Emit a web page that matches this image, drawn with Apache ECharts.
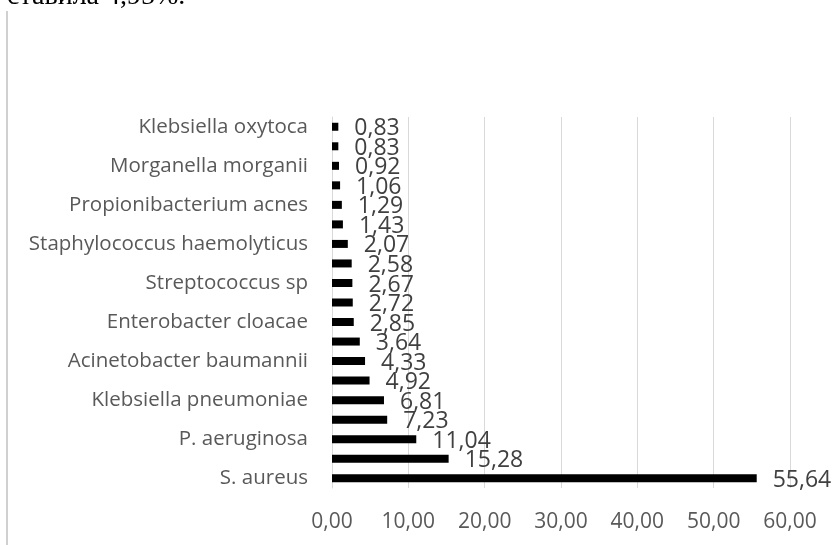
<!DOCTYPE html>
<html>
<head>
<meta charset="utf-8">
<script src="https://cdn.jsdelivr.net/npm/echarts@6/dist/echarts.min.js"></script>
<style>
html,body{margin:0;padding:0;background:#fff;}
#chart{width:839px;height:545px;}
</style>
</head>
<body>
<div id="chart"></div>
<script>
// Categories from bottom to top; names not shown in the picture are left blank
var categories = [
  "S. aureus", "", "P. aeruginosa", "", "Klebsiella pneumoniae", "",
  "Acinetobacter baumannii", "", "Enterobacter cloacae", "", "Streptococcus sp", "",
  "Staphylococcus haemolyticus", "", "Propionibacterium acnes", "", "Morganella morganii", "",
  "Klebsiella oxytoca"
];
var values = [55.64, 15.28, 11.04, 7.23, 6.81, 4.92, 4.33, 3.64, 2.85, 2.72,
              2.67, 2.58, 2.07, 1.43, 1.29, 1.06, 0.92, 0.83, 0.83];
var xTicks = [0, 10, 20, 30, 40, 50, 60];
var headText = "ставила 4,95%.";

function fmt(v) { return Number(v).toFixed(2).replace('.', ','); }

var chart = echarts.init(document.getElementById('chart'), null, {renderer: 'canvas'});
chart.setOption({
  animation: false,
  backgroundColor: '#ffffff',
  grid: {left: 332, right: 49, top: 117, bottom: 57, containLabel: false},
  xAxis: {
    type: 'value',
    min: xTicks[0],
    max: xTicks[xTicks.length - 1],
    interval: xTicks[1] - xTicks[0],
    axisLine: {show: false},
    axisTick: {show: false},
    splitLine: {show: true, lineStyle: {color: '#d9d9d9', width: 1}},
    axisLabel: {
      formatter: fmt,
      color: '#595959',
      fontFamily: 'Open Sans',
      fontSize: 21,
      margin: 24
    }
  },
  yAxis: {
    type: 'category',
    data: categories,
    axisLine: {show: true, lineStyle: {color: '#d9d9d9', width: 1}},
    axisTick: {show: false},
    axisLabel: {
      interval: 0,
      color: '#595959',
      fontFamily: 'Open Sans',
      fontSize: 20.5,
      margin: 24
    }
  },
  series: [{
    type: 'bar',
    data: values,
    barWidth: 8,
    itemStyle: {color: '#000000'},
    label: {
      show: true,
      position: 'right',
      distance: 16,
      offset: [0, 2],
      formatter: function (p) { return fmt(p.value); },
      color: '#404040',
      fontFamily: 'Open Sans',
      fontSize: 23
    }
  }],
  graphic: [
    {
      type: 'line',
      shape: {x1: 7, y1: 11, x2: 7, y2: 545},
      style: {stroke: '#d0d0d0', lineWidth: 2}
    },
    {
      type: 'text',
      x: 7,
      y: 11,
      style: {
        text: headText,
        verticalAlign: 'bottom',
        font: '28px "Liberation Serif"',
        fill: '#000000'
      }
    }
  ]
});
</script>
</body>
</html>
